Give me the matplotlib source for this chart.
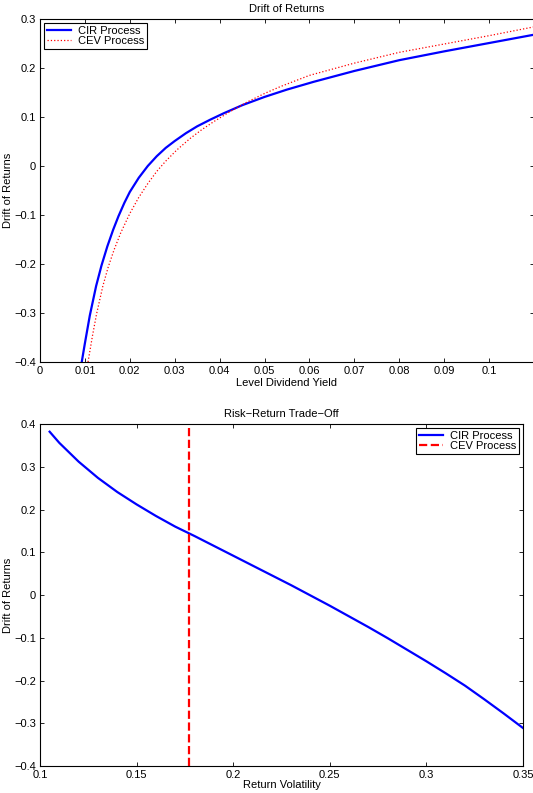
import matplotlib
matplotlib.use('Agg')
from matplotlib import pyplot as plt
from matplotlib.ticker import FuncFormatter

# top panel: drift of returns vs level dividend yield
cir_yield = [0.0093, 0.0100, 0.0111, 0.0125, 0.0137, 0.0150, 0.0163, 0.0175,
             0.0188, 0.0200, 0.0220, 0.0240, 0.0260, 0.0280, 0.0300, 0.0325,
             0.0350, 0.0380, 0.0410, 0.0450, 0.0500, 0.0550, 0.0610, 0.0700,
             0.0800, 0.0900, 0.1000, 0.1100]
cir_drift = [-0.400, -0.362, -0.305, -0.245, -0.203, -0.164, -0.130, -0.102,
             -0.075, -0.053, -0.024, 0.000, 0.020, 0.037, 0.051, 0.067,
             0.081, 0.095, 0.108, 0.124, 0.141, 0.156, 0.172, 0.194,
             0.216, 0.234, 0.251, 0.268]

cev_yield = [0.0107, 0.0117, 0.0126, 0.0140, 0.0152, 0.0165, 0.0180, 0.0200,
             0.0220, 0.0240, 0.0260, 0.0280, 0.0305, 0.0334, 0.0360, 0.0386,
             0.0423, 0.0460, 0.0500, 0.0535, 0.0600, 0.0700, 0.0800, 0.0900,
             0.1000, 0.1100]
cev_drift = [-0.400, -0.346, -0.302, -0.245, -0.206, -0.171, -0.136, -0.097,
             -0.064, -0.036, -0.011, 0.010, 0.033, 0.056, 0.074, 0.090,
             0.111, 0.130, 0.148, 0.162, 0.185, 0.210, 0.232, 0.249,
             0.266, 0.284]

# bottom panel: risk-return trade-off
cir_vol = [0.105, 0.110, 0.120, 0.130, 0.140, 0.150, 0.160, 0.170, 0.180,
           0.190, 0.200, 0.210, 0.220, 0.230, 0.240, 0.250, 0.260, 0.270,
           0.280, 0.290, 0.300, 0.310, 0.320, 0.330, 0.340, 0.350]
cir_rr = [0.382, 0.356, 0.312, 0.274, 0.241, 0.212, 0.185, 0.160, 0.138,
          0.115, 0.092, 0.069, 0.046, 0.023, -0.001, -0.025, -0.050, -0.075,
          -0.101, -0.128, -0.155, -0.183, -0.212, -0.244, -0.277, -0.311]
cev_vol = 0.177

top_xticks = [0, 0.01, 0.02, 0.03, 0.04, 0.05, 0.06, 0.07, 0.08, 0.09, 0.1]
top_yticks = [-0.4, -0.3, -0.2, -0.1, 0, 0.1, 0.2, 0.3]
bot_xticks = [0.1, 0.15, 0.2, 0.25, 0.3, 0.35]
bot_yticks = [-0.4, -0.3, -0.2, -0.1, 0, 0.1, 0.2, 0.3, 0.4]

FS = 8


def fmt(v, pos):
    s = '%g' % round(v, 4)
    return s.replace('-', '\u2212')


def style_axes(ax):
    ax.tick_params(direction='in', top=True, right=True, length=3,
                   width=0.6, labelsize=FS, pad=3)
    for s in ax.spines.values():
        s.set_linewidth(0.8)
    ax.xaxis.set_major_formatter(FuncFormatter(fmt))
    ax.yaxis.set_major_formatter(FuncFormatter(fmt))


def add_legend(ax, loc):
    leg = ax.legend(loc=loc, fontsize=FS, fancybox=False,
                    edgecolor='black', framealpha=1, borderaxespad=0.35,
                    handlelength=2.2, handletextpad=0.6, borderpad=0.25,
                    labelspacing=0.05)
    leg.get_frame().set_linewidth(0.8)


def main():
    plt.rcParams['font.family'] = ['Liberation Sans', 'DejaVu Sans']

    fig = plt.figure(figsize=(5.33, 7.93), dpi=100)

    # top chart
    ax1 = fig.add_axes([0.0750, 0.5435, 0.9268, 0.4325])
    ax1.plot(cir_yield, cir_drift, color='blue', lw=1.6, label='CIR Process')
    ax1.plot(cev_yield, cev_drift, color='red', lw=0.9, ls=':',
             label='CEV Process')
    ax1.set_xlim(0, 0.11)
    ax1.set_ylim(-0.4, 0.3)
    ax1.set_xticks(top_xticks)
    ax1.set_yticks(top_yticks)
    style_axes(ax1)
    ax1.set_title('Drift of Returns', fontsize=FS, pad=5)
    ax1.set_xlabel('Level Dividend Yield', fontsize=FS, labelpad=1)
    ax1.set_ylabel('Drift of Returns', fontsize=FS, labelpad=1)
    add_legend(ax1, 'upper left')

    # bottom chart
    ax2 = fig.add_axes([0.0750, 0.0340, 0.9062, 0.4313])
    ax2.plot(cir_vol, cir_rr, color='blue', lw=1.6, label='CIR Process')
    ax2.axvline(cev_vol, color='red', lw=1.6, ls='--', label='CEV Process')
    ax2.set_xlim(0.1, 0.35)
    ax2.set_ylim(-0.4, 0.4)
    ax2.set_xticks(bot_xticks)
    ax2.set_yticks(bot_yticks)
    style_axes(ax2)
    ax2.set_title('Risk\u2212Return Trade\u2212Off', fontsize=FS, pad=5)
    ax2.set_xlabel('Return Volatility', fontsize=FS, labelpad=0)
    ax2.set_ylabel('Drift of Returns', fontsize=FS, labelpad=1)
    add_legend(ax2, 'upper right')

    fig.savefig('out.png', dpi=100)


if __name__ == '__main__':
    main()
